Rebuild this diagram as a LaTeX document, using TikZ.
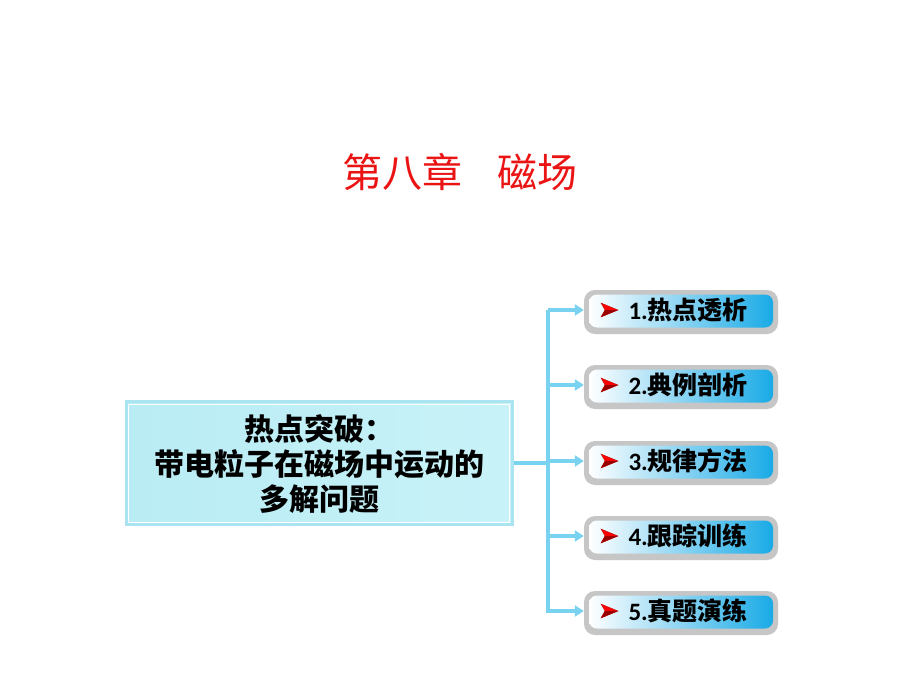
\documentclass[tikz,border=0pt]{standalone}
\usepackage{fontspec}
\newfontfamily\cjk{Noto Sans CJK SC}
\newfontfamily\numf{Carlito}
\usetikzlibrary{arrows.meta,calc}
\definecolor{titlered}{RGB}{235,20,20}
\definecolor{linkblue}{RGB}{120,210,240}
\definecolor{btnblue}{RGB}{25,170,230}
\definecolor{boxL}{RGB}{185,236,244}
\definecolor{boxR}{RGB}{200,242,248}
\definecolor{boxedge}{RGB}{170,228,240}
\tikzset{
  btnshadow/.style={draw=none, fill=gray!45, rounded corners=11pt, minimum width=194pt, minimum height=44pt},
  btn/.style={draw=none, left color=white, right color=btnblue, rounded corners=8pt, minimum width=184pt, minimum height=33pt, inner sep=0pt},
  btntext/.style={font=\cjk\bfseries\fontsize{25}{27}\selectfont, anchor=west, text=black},
  link/.style={draw=linkblue, line width=3.5pt},
  linkarrow/.style={draw=linkblue, line width=3.5pt, -{Triangle[length=9pt,width=11pt]}},
  redmark/.style={fill=red, draw=red!70!black, line width=0.3pt},
}
\begin{document}
\begin{tikzpicture}[x=1pt,y=-1pt]
\useasboundingbox (0,0) rectangle (920,690);
\fill[white] (0,0) rectangle (920,690);
% title
\node[text=titlered, font=\cjk\fontsize{40}{42}\selectfont] (title) at (460,172) {第八章\hspace{0.9em}磁场};
% left box
\node[draw=boxedge, line width=3pt, left color=boxL, right color=boxR, minimum width=386pt, minimum height=123pt, inner sep=0pt] (main) at (319,463) {};
\draw[white, line width=1pt] ($(main.north west)+(4,4)$) rectangle ($(main.south east)+(-4,-4)$);
\node[font=\cjk\bfseries\fontsize{30}{35}\selectfont, align=center, text=black] (maintext) at (319,464) {热点突破：\\带电粒子在磁场中运动的\\多解问题};
% spine
\coordinate (j) at (548,463);
\coordinate (top) at (548,310);
\coordinate (bot) at (548,613);
\draw[link] (main.east) -- (j);
\draw[link] (top) -- (bot);
% buttons
\foreach \i/\y/\t in {1/312/热点透析, 2/387/典例剖析, 3/463/规律方法, 4/538/跟踪训练, 5/613/真题演练}{
  \node[btnshadow] (s\i) at (681,\y) {};
  \node[btn] (b\i) at (681,\y-1) {};
  \coordinate (a\i) at (548,\y-2);
  \draw[linkarrow] (a\i) -- ($(s\i.west)+(0,-2)$);
  \begin{scope}[shift={(601,\y-2)}]
    \fill[redmark] (0,-7) -- (17,0) -- (0,7) -- (4,0) -- cycle;
    \fill[red!60!black] (4,0) -- (17,0) -- (0,7) -- cycle;
  \end{scope}
  \node[btntext] (t\i) at (625,\y-2) {{\numf\bfseries\i.}\t};
}
\end{tikzpicture}
\end{document}
